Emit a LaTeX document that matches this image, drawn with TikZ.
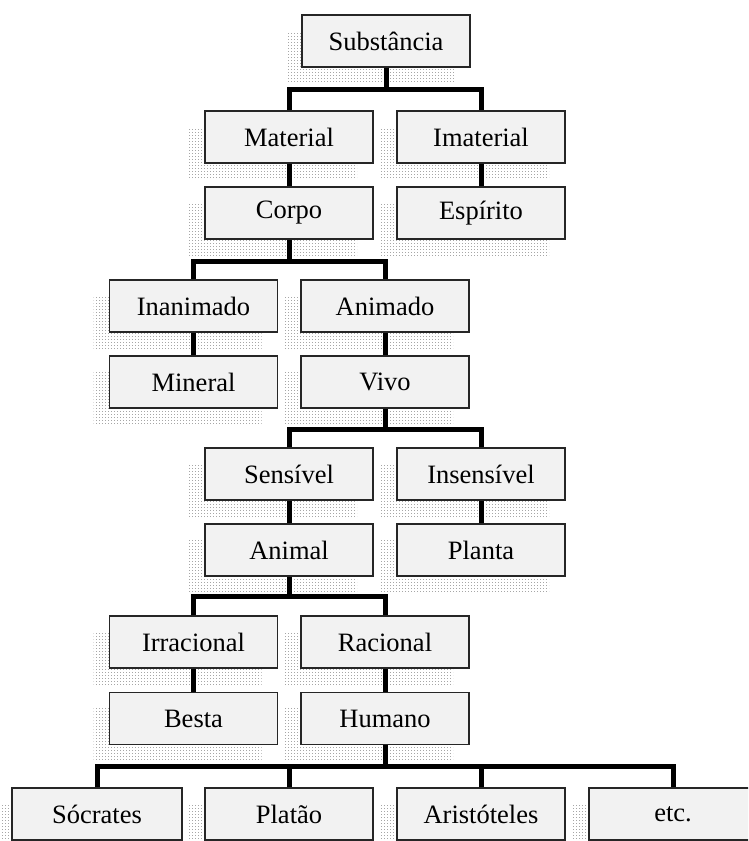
\documentclass[tikz,border=0pt]{standalone}
\usepackage{fontspec}
\setmainfont{Liberation Serif}
\usetikzlibrary{patterns,shadows}
\pgfdeclarepatternformonly{finedots}{\pgfpointorigin}{\pgfpoint{3pt}{3pt}}{\pgfpoint{3pt}{3pt}}{\pgfpathrectangle{\pgfpointorigin}{\pgfpoint{1.1pt}{1.1pt}}\pgfusepath{fill}}
\begin{document}
\begin{tikzpicture}[x=1pt,y=-1pt,
  box/.style={draw=black!85, line width=1.5pt, fill=gray!10, minimum width=168pt, minimum height=52pt, inner sep=0pt,
    font=\fontsize{26.5}{30}\selectfont,
    general shadow={shadow xshift=-16pt, shadow yshift=-16pt, pattern=finedots, pattern color=gray!70, draw=none}},
  conn/.style={line width=5pt, black, line join=miter}]
\clip (0,0) rectangle (748,841);
\fill[white] (0,0) rectangle (748,841);

\node[box] (sub) at (386,41) {Substância};
\node[box] (mat) at (289,137) {Material};
\node[box] (ima) at (481,137) {Imaterial};
\node[box] (cor) at (289,213) {Corpo};
\node[box] (esp) at (481,213) {Espírito};
\node[box] (ina) at (193.5,306) {Inanimado};
\node[box] (ani) at (385,306) {Animado};
\node[box] (min) at (193.5,382) {Mineral};
\node[box] (viv) at (385,382) {Vivo};
\node[box] (sen) at (289,474) {Sensível};
\node[box] (ins) at (481,474) {Insensível};
\node[box] (anl) at (289,550) {Animal};
\node[box] (pla) at (481,550) {Planta};
\node[box] (irr) at (193.5,642) {Irracional};
\node[box] (rac) at (385,642) {Racional};
\node[box] (bes) at (193.5,718.5) {Besta};
\node[box] (hum) at (385,718.5) {Humano};
\node[box, minimum width=170pt] (soc) at (97,814) {Sócrates};
\node[box] (plt) at (289,814) {Platão};
\node[box] (ari) at (481,814) {Aristóteles};
\node[box] (etc) at (673,814) {etc.};

\coordinate (b1) at (386,89);
\coordinate (b2) at (289,261);
\coordinate (b3) at (385,429);
\coordinate (b4) at (289,596);
\coordinate (b5) at (385,766);

\draw[conn] (mat.north) |- (b1) -| (ima.north);
\draw[conn] (sub.south) -- (b1);
\draw[conn] (mat.south) -- (cor.north);
\draw[conn] (ima.south) -- (esp.north);

\draw[conn] (ina.north) |- (b2) -| (ani.north);
\draw[conn] (cor.south) -- (b2);
\draw[conn] (ina.south) -- (min.north);
\draw[conn] (ani.south) -- (viv.north);

\draw[conn] (sen.north) |- (b3) -| (ins.north);
\draw[conn] (viv.south) -- (b3);
\draw[conn] (sen.south) -- (anl.north);
\draw[conn] (ins.south) -- (pla.north);

\draw[conn] (irr.north) |- (b4) -| (rac.north);
\draw[conn] (anl.south) -- (b4);
\draw[conn] (irr.south) -- (bes.north);
\draw[conn] (rac.south) -- (hum.north);

\draw[conn] (soc.north) |- (b5) -| (etc.north);
\draw[conn] (hum.south) -- (b5);
\draw[conn] (plt.north) -- (plt.north |- b5);
\draw[conn] (ari.north) -- (ari.north |- b5);
\end{tikzpicture}
\end{document}
